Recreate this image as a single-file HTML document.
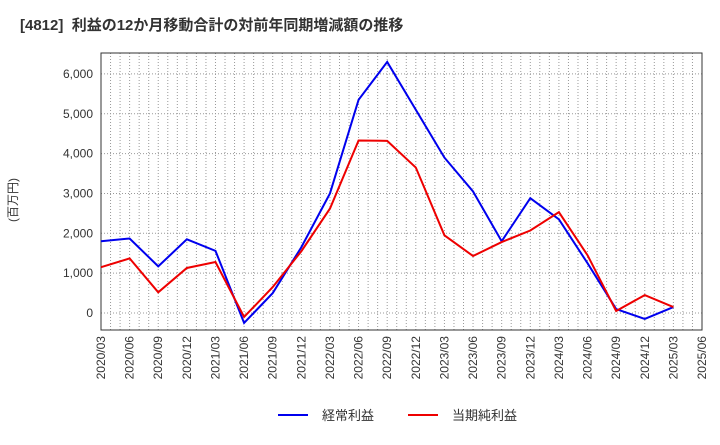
<!DOCTYPE html>
<html><head><meta charset="utf-8"><style>
body{margin:0;background:#fff;font-family:"Liberation Sans","Noto Sans CJK JP",sans-serif;}
svg text{font-family:"Liberation Sans","Noto Sans CJK JP",sans-serif;}
</style></head><body>
<svg id="c" width="720" height="440" xmlns="http://www.w3.org/2000/svg">
<text x="20" y="30" font-size="15" font-weight="bold" fill="#333">[4812]&#160; 利益の12か月移動合計の対前年同期増減額の推移</text>
<text transform="translate(17,200) rotate(-90)" font-size="12" fill="#333" text-anchor="middle">(百万円)</text>
<g id="grid"></g><g id="axes"></g><g id="series"></g>
<g>
<line x1="278" y1="415" x2="308" y2="415" stroke="#0000ee" stroke-width="2"/>
<text x="322" y="420" font-size="13" fill="#333">経常利益</text>
<line x1="408" y1="415" x2="438" y2="415" stroke="#ee0000" stroke-width="2"/>
<text x="452" y="420" font-size="13" fill="#333">当期純利益</text>
</g>
</svg>
<script>
const categories=["2020/03","2020/06","2020/09","2020/12","2021/03","2021/06","2021/09","2021/12","2022/03","2022/06","2022/09","2022/12","2023/03","2023/06","2023/09","2023/12","2024/03","2024/06","2024/09","2024/12","2025/03","2025/06"];
const ordinaryProfit=[1800,1870,1170,1850,1560,-250,500,1650,3000,5350,6300,5100,3900,3050,1800,2880,2350,1250,100,-150,150];
const netProfit=[1150,1370,520,1130,1280,-100,650,1550,2620,4330,4320,3650,1950,1430,1780,2070,2530,1450,50,450,150];
const yTicks=[0,1000,2000,3000,4000,5000,6000];
const yTickLabels=["0","1,000","2,000","3,000","4,000","5,000","6,000"];
const NS="http://www.w3.org/2000/svg";
const L=101,R=702,T=53,B=330;
const y=v=>313-v*0.03985;
const q=(R-L)/(categories.length-1);
const x=i=>L+i*q;
function mk(tag,attrs,parent){const e=document.createElementNS(NS,tag);for(const k in attrs)e.setAttribute(k,attrs[k]);parent.appendChild(e);return e;}
const grid=document.getElementById('grid'),axes=document.getElementById('axes'),ser=document.getElementById('series');
for(let m=1;m<(categories.length-1)*3;m++){const gx=L+m*q/3;
const l=mk('line',{x1:gx,x2:gx,y1:T,y2:B,stroke:'#999','stroke-dasharray':'1,2','stroke-width':1},grid);

}
yTicks.forEach((v,i)=>{
const l=mk('line',{x1:L,x2:R,y1:y(v),y2:y(v),stroke:'#999','stroke-dasharray':'1,2'},grid);


const t=mk('text',{x:L-8,y:y(v)+4,'font-size':12,'text-anchor':'end',fill:'#333'},axes);t.textContent=yTickLabels[i];

});
const fr=mk('rect',{x:L,y:T,width:R-L,height:B-T,fill:'none',stroke:'#333'},axes);


categories.forEach((c,i)=>{const t=mk('text',{transform:`translate(${x(i)+4},${B+6}) rotate(-90)`,'font-size':12,'text-anchor':'end',fill:'#333'},axes);t.textContent=c;

});
function line(d,col,name){const p=mk('polyline',{points:d.map((v,i)=>x(i)+','+y(v)).join(' '),fill:'none',stroke:col,'stroke-width':2},ser);

}
line(ordinaryProfit,'#0000ee','ordinary-profit-line');
line(netProfit,'#ee0000','net-profit-line');
</script>
</body></html>
